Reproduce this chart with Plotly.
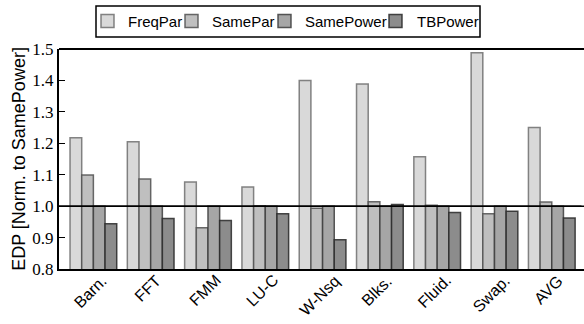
import plotly.graph_objects as go

categories = ["Barn.", "FFT", "FMM", "LU-C", "W-Nsq", "Blks.", "Fluid.", "Swap.", "AVG"]
freqpar = [1.218, 1.205, 1.077, 1.061, 1.400, 1.389, 1.157, 1.488, 1.250]
samepar = [1.099, 1.086, 0.931, 1.001, 0.993, 1.014, 1.003, 0.976, 1.013]
samepower = [1.0, 1.0, 1.0, 1.0, 1.0, 1.0, 1.0, 1.0, 1.0]
tbpower = [0.944, 0.961, 0.954, 0.976, 0.893, 1.005, 0.980, 0.984, 0.962]
y_ticks = [0.8, 0.9, 1.0, 1.1, 1.2, 1.3, 1.4, 1.5]

series_names = ["FreqPar", "SamePar", "SamePower", "TBPower"]
series_values = [freqpar, samepar, samepower, tbpower]
fills = ["#d9d9d9", "#bfbfbf", "#a6a6a6", "#8c8c8c"]
edges = ["rgba(110,110,110,0.85)", "rgba(80,80,80,0.85)",
         "rgba(60,60,60,0.85)", "rgba(40,40,40,0.85)"]

W, H = 584, 324
ML, MR, MT, MB = 59, 0, 49, 55
PW, PH = W - ML - MR, H - MT - MB


def px_x(p):
    return (p - ML) / PW


def px_y(p):
    return (H - MB - p) / PH


fig = go.Figure()
for name, vals, fill, edge in zip(series_names, series_values, fills, edges):
    fig.add_trace(go.Bar(
        name=name, x=categories, y=vals, showlegend=False,
        marker=dict(color=fill, line=dict(color=edge, width=1.5)),
    ))

fig.add_hline(y=1.0, line=dict(color="black", width=1.5), layer="above")
# hide the stray edge at the far right (the reference frame continues past the crop)
fig.add_shape(type="rect", xref="paper", yref="paper",
              x0=px_x(581.5), x1=px_x(586), y0=px_y(267.5), y1=px_y(50),
              line=dict(width=0), fillcolor="white", layer="above")
fig.add_hline(y=1.0, line=dict(color="black", width=1.5), layer="above")
# top spine
fig.add_shape(type="line", xref="paper", yref="paper", x0=0, x1=1.01, y0=1, y1=1,
              line=dict(color="black", width=2), layer="above")

for c in categories:
    fig.add_annotation(
        x=c, xref="x", y=0.0, yref="paper", text=c, showarrow=False,
        textangle=-45, xanchor="center", yanchor="top", xshift=-3,
        font=dict(family="Liberation Sans, Arial", size=16, color="black"),
    )

fig.add_shape(type="rect", xref="paper", yref="paper",
              x0=px_x(96), x1=px_x(480), y0=px_y(37), y1=px_y(6),
              line=dict(color="black", width=1.5), fillcolor="white")
marker_left = [101, 185, 278, 389]
text_left = [126, 210, 303, 415]
for name, fill, edge, mx, tx in zip(series_names, fills, edges, marker_left, text_left):
    fig.add_shape(type="rect", xref="paper", yref="paper",
                  x0=px_x(mx), x1=px_x(mx + 13), y0=px_y(27.5), y1=px_y(14.5),
                  line=dict(color=edge, width=1.5), fillcolor=fill)
    fig.add_annotation(x=px_x(tx), y=px_y(21.5), xref="paper", yref="paper",
                       text=name, showarrow=False, xanchor="left", yanchor="middle",
                       font=dict(family="Liberation Sans, Arial", size=15, color="black"))

x_right = -0.6 + PW / 57.3
fig.update_layout(
    width=W, height=H,
    margin=dict(l=ML, r=MR, t=MT, b=MB),
    paper_bgcolor="white", plot_bgcolor="white",
    barmode="group", bargap=0.185, bargroupgap=0,
    showlegend=False,
    xaxis=dict(
        range=[-0.6, x_right], showticklabels=False, ticks="",
        showline=True, linecolor="black", linewidth=2, mirror=False,
        showgrid=False, zeroline=False,
    ),
    yaxis=dict(
        range=[0.8, 1.5], tickvals=y_ticks, tickformat=".1f",
        ticks="inside", ticklen=6, tickwidth=1.2, tickcolor="black",
        showline=True, linecolor="black", linewidth=2, mirror=False,
        showgrid=False, zeroline=False,
        tickfont=dict(family="Liberation Serif, DejaVu Serif", size=17, color="black"),
        title=dict(text="EDP [Norm. to SamePower]", standoff=2,
                   font=dict(family="Liberation Sans, Arial", size=18, color="black")),
    ),
)

fig.write_html("out.html", config={"displayModeBar": False})
